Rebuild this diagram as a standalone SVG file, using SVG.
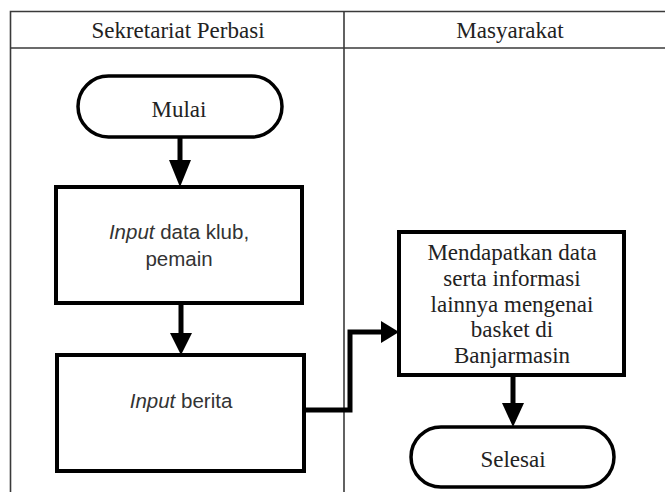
<svg xmlns="http://www.w3.org/2000/svg" width="665" height="492" viewBox="0 0 665 492">
<defs>
<style>
.lane{fill:none;stroke:#3a3a3a;stroke-width:1.6}
.term{fill:#fff;stroke:#000;stroke-width:3.5}
.box{fill:#fff;stroke:#000;stroke-width:4}
.conn{fill:none;stroke:#000;stroke-width:5;stroke-linejoin:miter}
.serif{font-family:"Liberation Serif","Times New Roman",serif;font-size:23px;fill:#222;text-anchor:middle}
.sans{font-family:"Liberation Sans",Arial,sans-serif;font-size:20.5px;fill:#333;text-anchor:middle}
.head{fill:#000}
</style>
</defs>
<rect x="0" y="0" width="665" height="492" fill="#fff"/>
<g id="lanes">
<path class="lane" d="M10.5 492 V11.5 H665"/>
<path class="lane" d="M10.5 48 H665" stroke-width="2.2"/>
<path class="lane" d="M344 11.5 V492"/>
<text class="serif" x="178" y="38" font-size="24">Sekretariat Perbasi</text>
<text class="serif" x="510" y="38" font-size="24">Masyarakat</text>
</g>
<g id="connectors">
<path class="conn" d="M180 137 V162"/>
<polygon class="head" points="169,160 191,160 180,187"/>
<path class="conn" d="M181 303 V336"/>
<polygon class="head" points="170,333 192,333 181,355"/>
<path class="conn" d="M304 410 H350 V332 H384"/>
<polygon class="head" points="381,321 381,343 399,332"/>
<path class="conn" d="M513 375 V405"/>
<polygon class="head" points="502,403 524,403 513,427"/>
</g>
<g id="mulai">
<rect class="term" x="78" y="76" width="204" height="61" rx="30.5"/>
<text class="serif" x="179" y="117">Mulai</text>
</g>
<g id="input-data">
<rect class="box" x="56" y="187" width="246" height="116"/>
<text class="sans" x="179" y="239"><tspan font-style="italic">Input</tspan> data klub,</text>
<text class="sans" x="179" y="266">pemain</text>
</g>
<g id="input-berita">
<rect class="box" x="57" y="355" width="247" height="116"/>
<text class="sans" x="181" y="408"><tspan font-style="italic">Input</tspan> berita</text>
</g>
<g id="mendapatkan">
<rect class="box" x="399" y="232" width="225" height="143"/>
<text class="serif" x="512" y="260">Mendapatkan data</text>
<text class="serif" x="512" y="286">serta informasi</text>
<text class="serif" x="512" y="312">lainnya mengenai</text>
<text class="serif" x="512" y="337">basket di</text>
<text class="serif" x="512" y="363">Banjarmasin</text>
</g>
<g id="selesai">
<rect class="term" x="411" y="427" width="203" height="60" rx="30"/>
<text class="serif" x="513" y="467">Selesai</text>
</g>
</svg>
